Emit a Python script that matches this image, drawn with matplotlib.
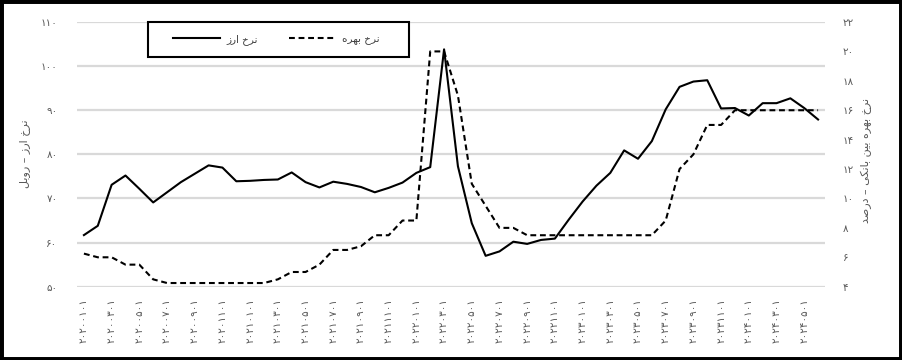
import numpy as np
import pandas as pd
import matplotlib
matplotlib.use("Agg")
import matplotlib.pyplot as plt
from matplotlib.patches import Rectangle

plt.rcParams['font.family'] = ['DejaVu Sans']

# ماهها: ۲۰۲۰-۰۱ تا ۲۰۲۴-۰۶
months = pd.date_range("2020-01-01", "2024-06-01", freq="MS")

# نرخ ارز (روبل)
nerkh_arz = [61.7, 63.8, 73.1, 75.2, 72.2, 69.1, 71.4, 73.7, 75.6, 77.5,
             77.0, 73.9, 74.0, 74.2, 74.3, 75.9, 73.7, 72.5, 73.8, 73.3,
             72.6, 71.4, 72.4, 73.6, 75.8, 77.1, 103.8, 77.3, 64.4, 57.0,
             58.0, 60.2, 59.7, 60.6, 60.9, 65.2, 69.3, 72.9, 75.8, 80.9,
             79.0, 83.0, 90.2, 95.3, 96.5, 96.8, 90.4, 90.5, 88.8, 91.6,
             91.6, 92.7, 90.5, 87.9]

# نرخ بهره بین بانکی (درصد)
nerkh_bahre = [6.25, 6.0, 6.0, 5.5, 5.5, 4.5, 4.25, 4.25, 4.25, 4.25,
               4.25, 4.25, 4.25, 4.25, 4.5, 5.0, 5.0, 5.5, 6.5, 6.5,
               6.75, 7.5, 7.5, 8.5, 8.5, 20.0, 20.0, 17.0, 11.0, 9.5,
               8.0, 8.0, 7.5, 7.5, 7.5, 7.5, 7.5, 7.5, 7.5, 7.5,
               7.5, 7.5, 8.5, 12.0, 13.0, 15.0, 15.0, 16.0, 16.0, 16.0,
               16.0, 16.0, 16.0, 16.0]

y_left_ticks = [50, 60, 70, 80, 90, 100, 110]
y_right_ticks = [4, 6, 8, 10, 12, 14, 16, 18, 20, 22]

txt_arz = "نرخ ارز"
txt_bahre = "نرخ بهره"
txt_left = "نرخ ارز – روبل"
txt_right = "نرخ بهره بین بانکی – درصد"


# شکل حروف: (تنها، پایانی، آغازی، میانی) - حروف فقط راست چسب دو شکل دارند
FORMS = {
    'ن': ('\uFEE5', '\uFEE6', '\uFEE7', '\uFEE8'),
    'ر': ('\uFEAD', '\uFEAE'),
    'خ': ('\uFEA5', '\uFEA6', '\uFEA7', '\uFEA8'),
    'ا': ('\uFE8D', '\uFE8E'),
    'ز': ('\uFEAF', '\uFEB0'),
    'ب': ('\uFE8F', '\uFE90', '\uFE91', '\uFE92'),
    'ه': ('\uFEE9', '\uFEEA', '\uFEEB', '\uFEEC'),
    'ی': ('\uFEEF', '\uFEF0', '\uFEF3', '\uFEF4'),
    'و': ('\uFEED', '\uFEEE'),
    'ل': ('\uFEDD', '\uFEDE', '\uFEDF', '\uFEE0'),
    'د': ('\uFEA9', '\uFEAA'),
    'ص': ('\uFEB9', '\uFEBA', '\uFEBB', '\uFEBC'),
    'ک': ('\uFED9', '\uFEDA', '\uFEDB', '\uFEDC'),
}


def fa(s):
    out = []
    for i, c in enumerate(s):
        if c not in FORMS:
            out.append(c)
            continue
        prev = s[i - 1] if i > 0 else ''
        nxt = s[i + 1] if i + 1 < len(s) else ''
        j_prev = prev in FORMS and len(FORMS[prev]) == 4
        j_next = len(FORMS[c]) == 4 and nxt in FORMS
        f = FORMS[c]
        if j_prev and j_next:
            out.append(f[3])
        elif j_prev:
            out.append(f[1])
        elif j_next:
            out.append(f[2])
        else:
            out.append(f[0])
    return ''.join(out)[::-1]


def fa_num(x):
    return str(x).translate(str.maketrans("0123456789", "۰۱۲۳۴۵۶۷۸۹"))


gray = '#595959'
x = np.arange(len(months))

fig = plt.figure(figsize=(9.02, 3.6), dpi=100)
ax = fig.add_axes([77 / 902, 1 - 286.7 / 360, 748 / 902, 264.7 / 360])
ax2 = ax.twinx()

for v in y_left_ticks:
    ax.axhline(v, color='#d9d9d9', lw=1.6, zorder=0)

l1, = ax.plot(x, nerkh_arz, color='black', lw=1.5, label=fa(txt_arz))
l2, = ax2.plot(x, nerkh_bahre, color='black', lw=1.5, ls=(0, (2.8, 1.8)), label=fa(txt_bahre))

ax.set_xlim(-0.5, len(months) - 0.5)
ax.set_ylim(50, 110)
ax2.set_ylim(4, 22)

ax.set_yticks(y_left_ticks)
ax.set_yticklabels([fa_num(v) for v in y_left_ticks])
ax2.set_yticks(y_right_ticks)
ax2.set_yticklabels([fa_num(v) for v in y_right_ticks])

xt = x[::2]
ax.set_xticks(xt)
ax.set_xticklabels([fa_num(months[i].strftime("%Y%m%d")) for i in xt], rotation=90)

for a in (ax, ax2):
    for s in a.spines.values():
        s.set_visible(False)
ax.tick_params(axis='both', length=0, labelsize=7.5, labelcolor=gray)
ax.tick_params(axis='y', pad=14)
ax.tick_params(axis='x', pad=8)
ax2.tick_params(axis='y', length=0, labelsize=7.5, labelcolor=gray, pad=13)

fig.text(25 / 902, 1 - 154 / 360, fa(txt_left), rotation=90, ha='center', va='center',
         fontsize=8, color=gray)
fig.text(866 / 902, 1 - 160 / 360, fa(txt_right), rotation=90, ha='center', va='center',
         fontsize=8, color=gray)

# کادر راهنما جدا کشیده میشود
ax2.add_patch(Rectangle((71 / 748, 1 - 35 / 264.7), 261 / 748, 35 / 264.7,
                        transform=ax2.transAxes, facecolor='white', edgecolor='black',
                        lw=1.5, zorder=5, clip_on=False))
leg = ax2.legend(handles=[l1, l2], ncol=2, loc='center left',
                 bbox_to_anchor=(96 / 748, 1 - 17.5 / 264.7),
                 borderaxespad=0, borderpad=0, fontsize=7.5, handlelength=4.5,
                 handletextpad=0.6, columnspacing=3.0, frameon=False,
                 labelcolor='#404040')
leg.set_zorder(6)

# قاب دور تصویر
fig.add_artist(Rectangle((0, 0), 1, 1, transform=fig.transFigure, fill=False,
                         ec='black', lw=5))

fig.savefig("out.png", dpi=100)
